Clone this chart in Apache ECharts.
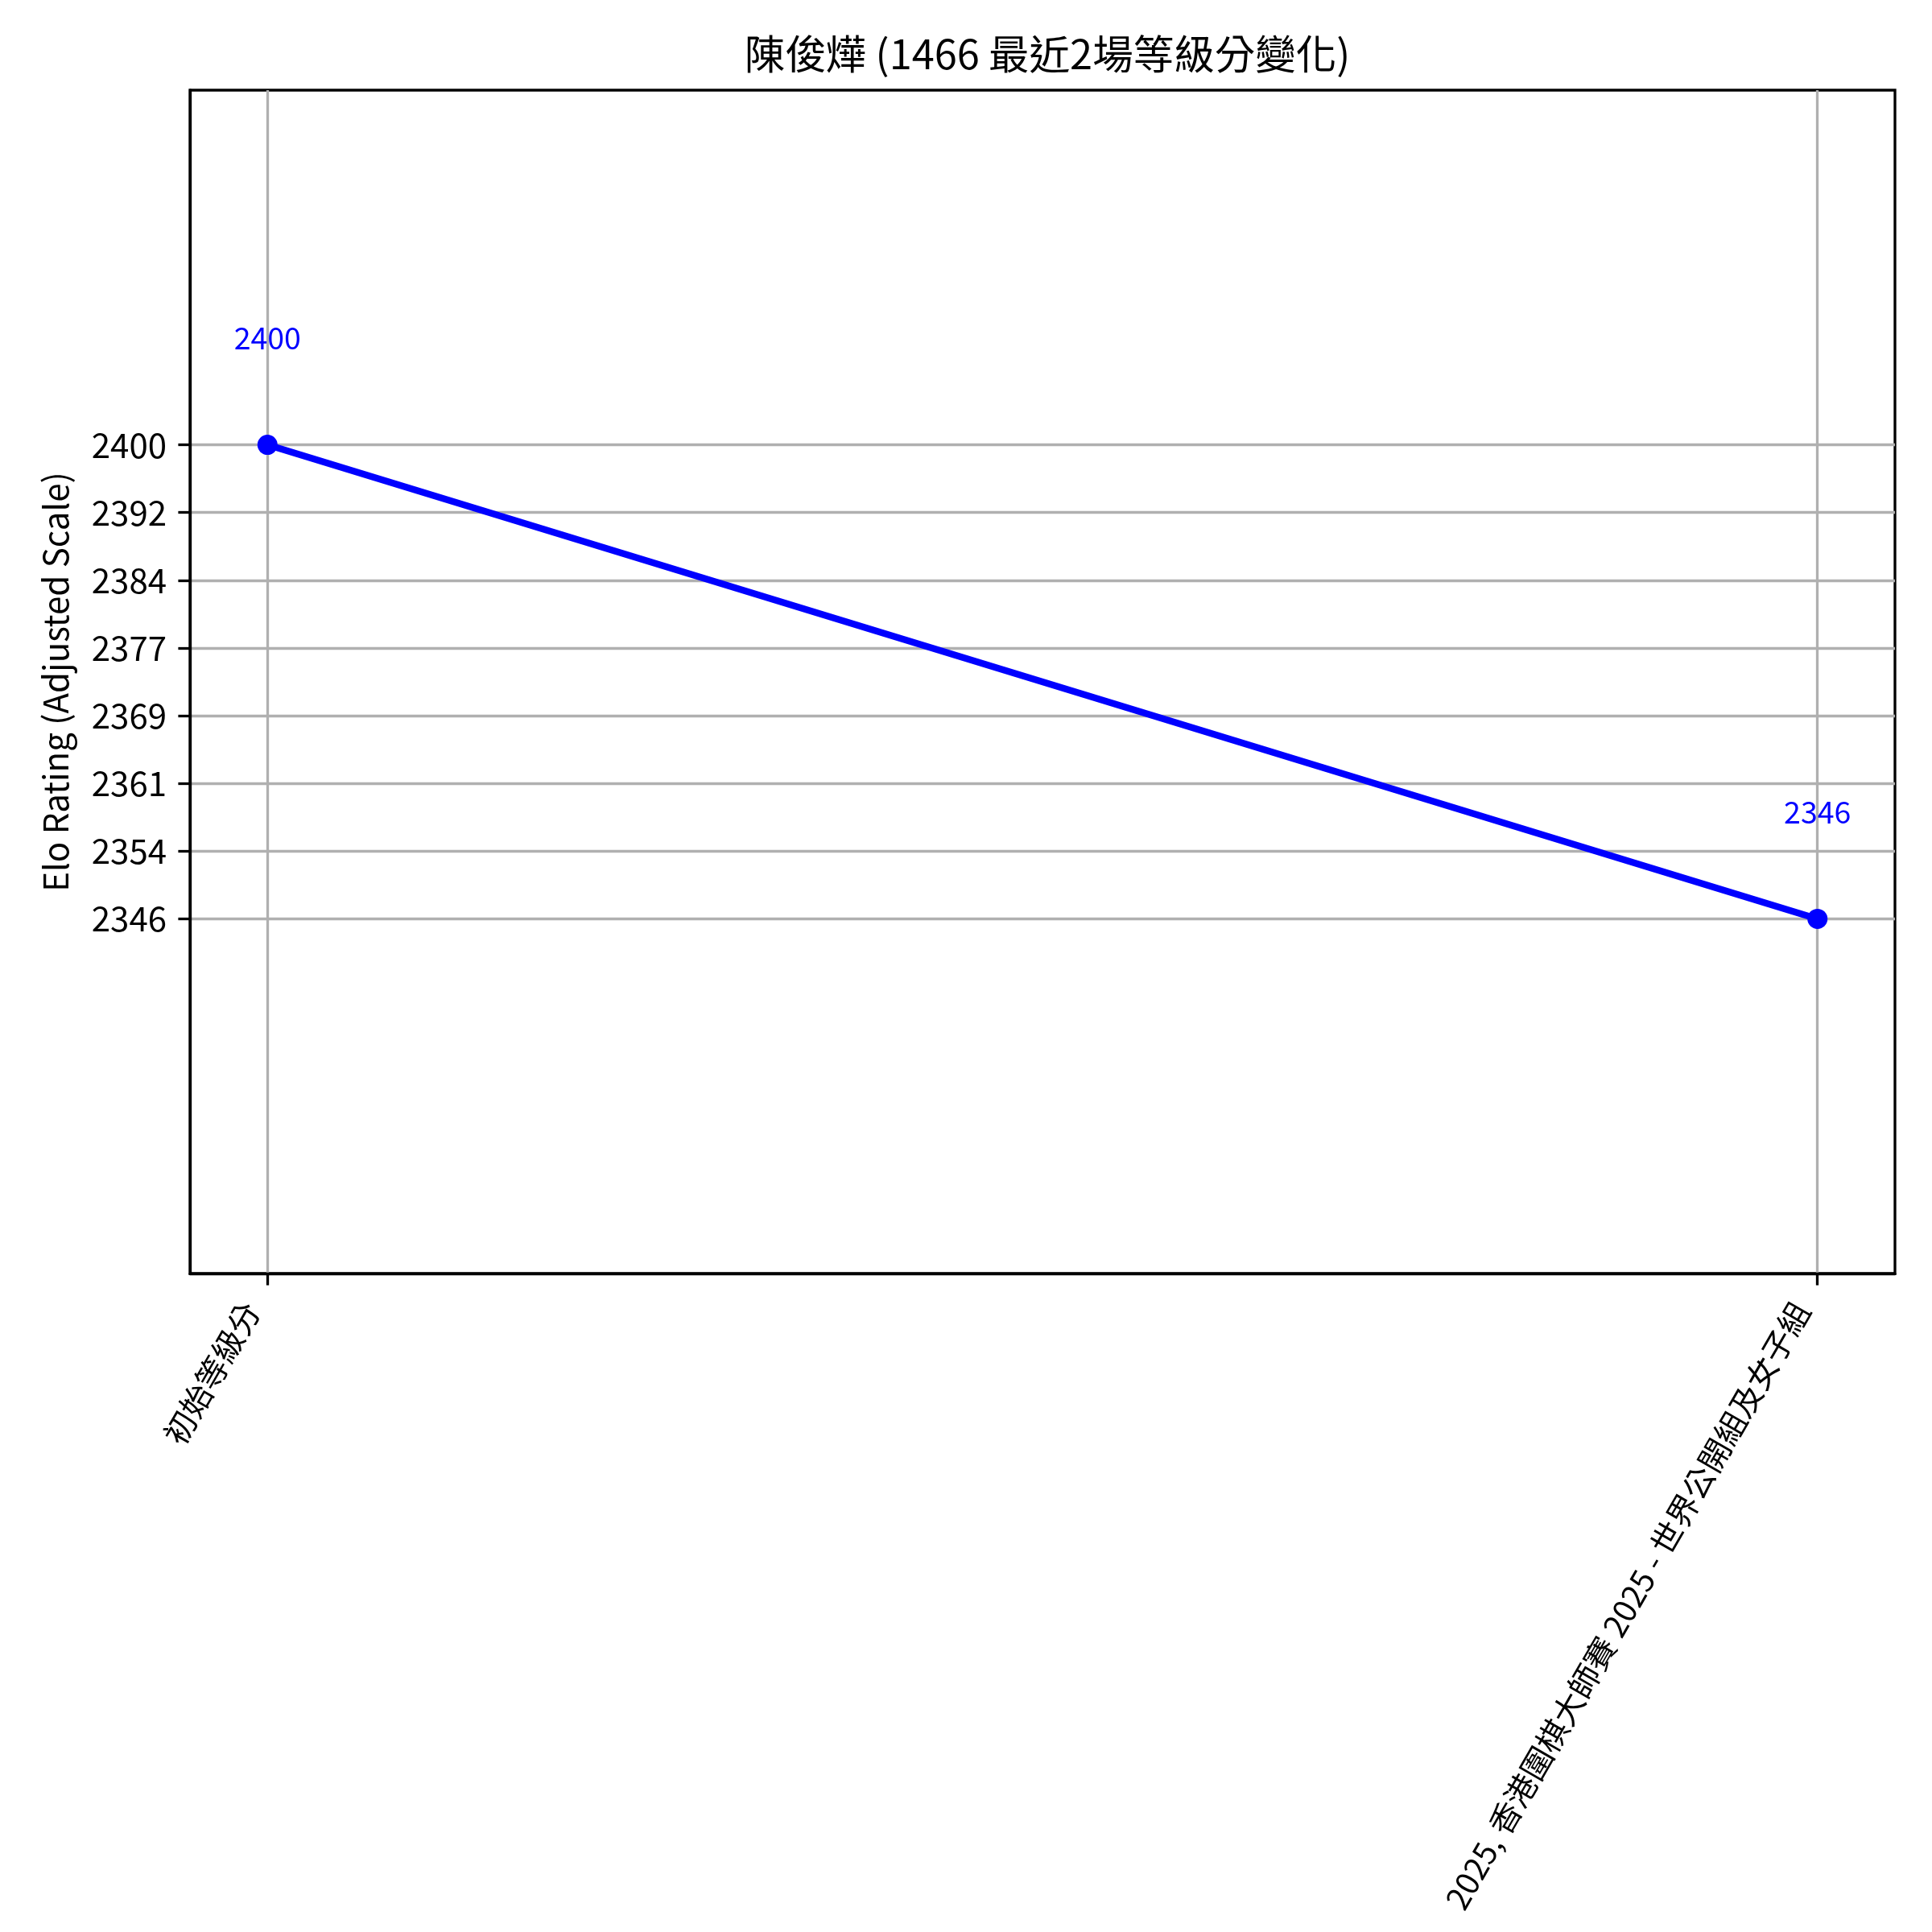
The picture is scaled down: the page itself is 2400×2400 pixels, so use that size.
<!DOCTYPE html>
<html>
<head>
<meta charset="utf-8">
<script src="https://cdn.jsdelivr.net/npm/echarts@6/dist/echarts.min.js"></script>
<style>
html,body{margin:0;padding:0;background:#fff;}
#chart{width:2400px;height:2400px;}
</style>
</head>
<body>
<div id="chart"></div>
<script>
const titleText = '陳俊燁 (1466 最近2場等級分變化)';
const categories = ['初始等級分', '2025, 香港圍棋大師賽 2025 - 世界公開組及女子組'];
const ratings = [2400, 2346];
const yTickValues = [2346, 2353.714, 2361.429, 2369.143, 2376.857, 2384.571, 2392.286, 2400];
const yTickLabels = ['2346', '2354', '2361', '2369', '2377', '2384', '2392', '2400'];
const yAxisName = 'Elo Rating (Adjusted Scale)';

const FONT = "'Noto Sans CJK TC', 'Noto Sans', sans-serif";
const chart = echarts.init(document.getElementById('chart'), null, {renderer: 'canvas'});
const xTickValues = categories.map((c, i) => i);
const data = ratings.map((v, i) => [i, v]);

chart.setOption({
  backgroundColor: '#ffffff',
  animation: false,
  title: {
    text: titleText,
    left: 1296,
    textAlign: 'center',
    top: 37,
    textStyle: {fontFamily: FONT, fontSize: 50.5, fontWeight: 'normal', color: '#000'}
  },
  grid: {
    left: 236, right: 46, top: 112, bottom: 818,
    show: true, borderColor: '#000', borderWidth: 3.3, backgroundColor: 'transparent'
  },
  xAxis: {
    type: 'value',
    min: -0.05, max: 1.05,
    axisLine: {show: true, onZero: false, lineStyle: {color: '#000', width: 3.3}},
    axisTick: {show: true, customValues: xTickValues, length: 14.6, lineStyle: {color: '#000', width: 3.3}},
    axisLabel: {
      customValues: xTickValues,
      rotate: 60,
      margin: 4,
      padding: [0, 40, 0, 0],
      fontFamily: FONT, fontSize: 39.3, color: '#000',
      formatter: v => categories[Math.round(v)]
    },
    splitLine: {show: true, lineStyle: {color: '#b0b0b0', width: 3.3}}
  },
  yAxis: {
    type: 'value',
    min: 2305.6, max: 2440.4,
    name: yAxisName,
    nameLocation: 'middle',
    nameGap: 146,
    nameTextStyle: {fontFamily: FONT, fontSize: 42, color: '#000'},
    axisLine: {show: true, onZero: false, lineStyle: {color: '#000', width: 3.3}},
    axisTick: {show: true, customValues: yTickValues, length: 14.6, lineStyle: {color: '#000', width: 3.3}},
    axisLabel: {
      customValues: yTickValues,
      margin: 29,
      fontFamily: FONT, fontSize: 42, color: '#000',
      formatter: v => {
        for (let i = 0; i < yTickValues.length; i++) {
          if (Math.abs(v - yTickValues[i]) < 0.01) return yTickLabels[i];
        }
        return '';
      }
    },
    splitLine: {show: true, lineStyle: {color: '#b0b0b0', width: 3.3}}
  },
  series: [{
    type: 'line',
    data: data,
    symbol: 'circle',
    symbolSize: 25,
    lineStyle: {color: '#0000ff', width: 8.3},
    itemStyle: {color: '#0000ff'},
    label: {
      show: true,
      position: 'inside',
      offset: [0, -133],
      color: '#0000ff',
      fontFamily: FONT,
      fontSize: 37.5,
      formatter: p => String(p.value[1])
    },
    z: 5
  }]
});
</script>
</body>
</html>
